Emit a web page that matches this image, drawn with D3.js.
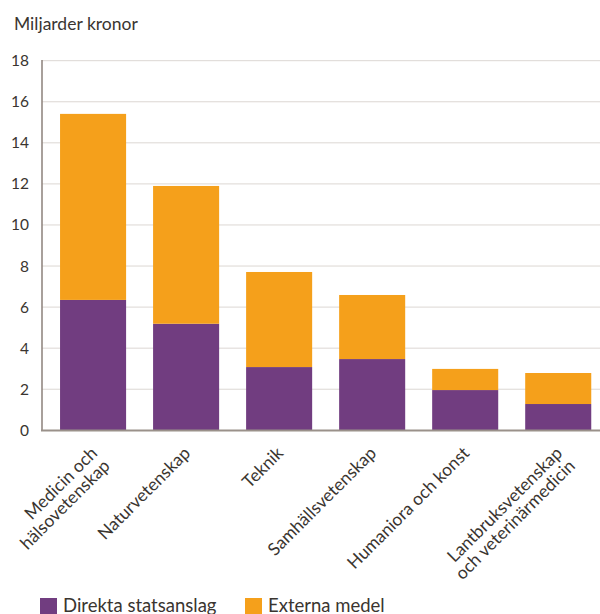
<!DOCTYPE html>
<html>
<head>
<meta charset="utf-8">
<script src="https://cdn.jsdelivr.net/npm/d3@7"></script>
<style>
  html, body { margin: 0; padding: 0; background: #fff; }
  svg { display: block; font-family: Lato, "Open Sans", sans-serif; }
</style>
</head>
<body>
<svg id="chart" width="600" height="614"></svg>
<script>
const categories = [
  ["Medicin och", "hälsovetenskap"],
  ["Naturvetenskap"],
  ["Teknik"],
  ["Samhällsvetenskap"],
  ["Humaniora och konst"],
  ["Lantbruksvetenskap", "och veterinärmedicin"]
];
const direkta = [6.35, 5.19, 3.08, 3.47, 1.96, 1.28];
const externa = [9.06, 6.71, 4.63, 3.12, 1.03, 1.51];
const yTicks = [0, 2, 4, 6, 8, 10, 12, 14, 16, 18];
const seriesNames = ["Direkta statsanslag", "Externa medel"];
const colors = ["#713d80", "#f5a01b"];

const svg = d3.select("#chart");
const keys = categories.map(c => c.join(" "));
const data = keys.map((k, i) => ({ key: k, d: direkta[i], e: externa[i] }));

const x = d3.scaleBand().domain(keys).range([42, 609.3]).paddingInner(0.29).paddingOuter(0.194);
const y = d3.scaleLinear().domain([0, 18]).range([430.3, 60.7]);

// grid
svg.append("g").selectAll("line").data(yTicks.filter(t => t > 0)).join("line")
  .attr("x1", 42).attr("x2", 600)
  .attr("y1", d => y(d)).attr("y2", d => y(d))
  .attr("stroke", "#dcd7d3").attr("stroke-width", 1);

// y axis labels
const yAxis = d3.axisLeft(y).tickValues(yTicks).tickSize(0).tickPadding(13);
const yg = svg.append("g").attr("transform", "translate(42,0)").call(yAxis);
yg.select(".domain").remove();
yg.selectAll("text").attr("font-size", 15.5).attr("fill", "#3a3530")
  .attr("font-family", "Lato, 'Open Sans', sans-serif");

// stacked bars
const stack = d3.stack().keys(["d", "e"])(data);
svg.append("g").selectAll("g").data(stack).join("g")
  .attr("fill", (s, i) => colors[i])
  .selectAll("rect").data(s => s).join("rect")
  .attr("x", d => x(d.data.key))
  .attr("width", x.bandwidth())
  .attr("y", d => y(d[1]))
  .attr("height", d => y(d[0]) - y(d[1]));

// axis lines
svg.append("line").attr("x1", 42).attr("x2", 42).attr("y1", 60).attr("y2", 431)
  .attr("stroke", "#8b817a").attr("stroke-width", 1.5);
svg.append("line").attr("x1", 41).attr("x2", 600).attr("y1", 430.5).attr("y2", 430.5)
  .attr("stroke", "#9a918a").attr("stroke-width", 2);

// title
svg.append("text").attr("x", 14).attr("y", 30).text("Miljarder kronor")
  .attr("font-size", 17.5).attr("fill", "#3a3530");

// x labels (rotated)
const lg = svg.append("g").selectAll("text").data(categories).join("text")
  .attr("transform", (c, i) => `translate(${x(keys[i]) + x.bandwidth() / 2 + 1},${450}) rotate(-45)`)
  .attr("text-anchor", "end")
  .attr("font-size", 17.5).attr("fill", "#3a3530");
lg.each(function(c) {
  const t = d3.select(this);
  c.forEach((line, j) => {
    t.append("tspan").attr("x", 0)
      .attr("y", 6 + j * 18)
      .text(line);
  });
});

// legend
const legX = [40, 245];
const leg = svg.append("g").selectAll("g").data(seriesNames).join("g")
  .attr("transform", (d, i) => `translate(${legX[i]},598)`);
leg.append("rect").attr("width", 17).attr("height", 16).attr("fill", (d, i) => colors[i]);
leg.append("text").attr("x", 23).attr("y", 14).text(d => d)
  .attr("font-size", 18.5).attr("fill", "#3a3530");
</script>
</body>
</html>
